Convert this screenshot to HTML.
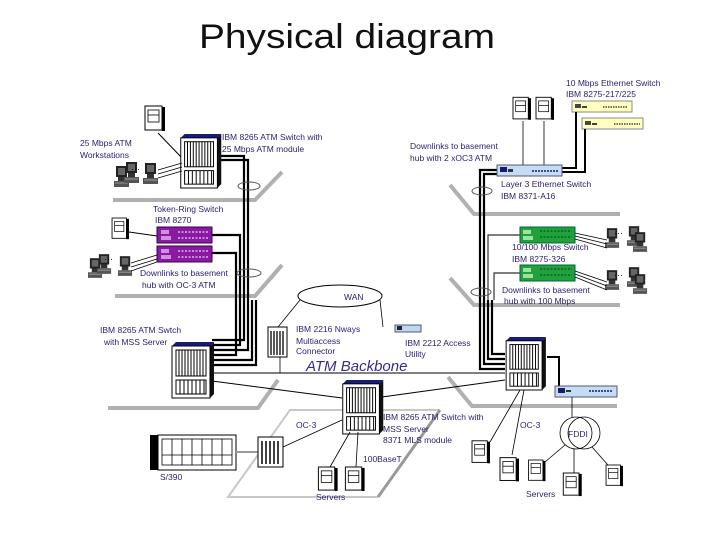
<!DOCTYPE html>
<html><head><meta charset="utf-8"><style>
html,body{margin:0;padding:0;background:#fff;}
svg{display:block;}
text{font-family:"Liberation Sans",sans-serif;}
.l{font-size:8.5px;fill:#2b1d6b;}
</style></head><body>
<svg width="720" height="540" viewBox="0 0 720 540" xmlns="http://www.w3.org/2000/svg">
<defs>
<symbol id="srv" viewBox="0 0 20 26" overflow="visible">
<rect x="0" y="0" width="17" height="24" fill="#fff" stroke="#000" stroke-width="1"/>
<rect x="17" y="1" width="3" height="24" fill="#000"/>
<rect x="3" y="4" width="11" height="12" fill="#fff" stroke="#000" stroke-width="0.8"/>
<line x1="3" y1="9" x2="14" y2="9" stroke="#000" stroke-width="0.8"/>
</symbol>
<symbol id="ws" viewBox="0 0 16 22" overflow="visible">
<rect x="2" y="0" width="11" height="11" fill="#222"/>
<rect x="4" y="2" width="7" height="7" fill="#666"/>
<rect x="4" y="11" width="7" height="4" fill="#333"/>
<rect x="0" y="15" width="15" height="6" fill="#555"/>
<line x1="1" y1="17" x2="14" y2="17" stroke="#ccc" stroke-width="0.6"/>
</symbol>
<symbol id="sw" viewBox="0 0 42 56" overflow="visible">
<polygon points="0,4 4,0 42,0 38,4" fill="#1a1a7a"/>
<polygon points="38,4 42,0 42,52 38,56" fill="#111"/>
<rect x="0" y="4" width="38" height="52" fill="#fff" stroke="#000"/>
<rect x="4" y="8" width="30" height="26" fill="#fff" stroke="#000"/>
<rect x="4" y="38" width="30" height="14" fill="#fff" stroke="#000"/>
<g stroke="#000" stroke-width="1">
<line x1="7" y1="8" x2="7" y2="34"/><line x1="10" y1="8" x2="10" y2="34"/><line x1="13" y1="8" x2="13" y2="34"/><line x1="16" y1="8" x2="16" y2="34"/><line x1="19" y1="8" x2="19" y2="34"/><line x1="22" y1="8" x2="22" y2="34"/><line x1="25" y1="8" x2="25" y2="34"/><line x1="28" y1="8" x2="28" y2="34"/><line x1="31" y1="8" x2="31" y2="34"/>
<line x1="8" y1="38" x2="8" y2="52"/><line x1="12" y1="38" x2="12" y2="52"/><line x1="16" y1="38" x2="16" y2="52"/><line x1="20" y1="38" x2="20" y2="52"/><line x1="24" y1="38" x2="24" y2="52"/><line x1="28" y1="38" x2="28" y2="52"/><line x1="32" y1="38" x2="32" y2="52"/>
</g>
</symbol>
</defs>

<text x="199" y="48" font-size="34" fill="#111" textLength="296" lengthAdjust="spacingAndGlyphs">Physical diagram</text>

<!-- floors -->
<g stroke="#b0b0b0" stroke-width="4" fill="none">
<polyline points="113,200 255,200 282,172"/>
<polyline points="115,296 255,296 282,265"/>
<polyline points="450,185 474,214 620,214"/>
<polyline points="450,278 474,305 620,305"/>
<polyline points="108,408 258,408 278,380"/>
<polyline points="448,377 472,406 617,406"/>
</g>
<g stroke="#c8c8c8" stroke-width="2" fill="none">
<polyline points="440,410 290,410 228,497 378,497"/>
</g>
<line x1="440" y1="410" x2="378" y2="497" stroke="#999" stroke-width="3"/>

<!-- left vertical cable bundle -->
<g stroke="#000" stroke-width="2.2" fill="none">
<polyline points="217,156 244,156 244,340 212,340"/>
<polyline points="217,160 248,160 248,350 212,350"/>
<polyline points="212,235 240,235 240,345 212,345"/>
<polyline points="212,253 236,253 236,355 212,355"/>
<polyline points="252,300 252,360 212,360"/>
<polyline points="256,300 256,365 212,365"/>
</g>
<ellipse cx="249" cy="186" rx="11" ry="4" fill="none" stroke="#555"/>
<ellipse cx="249" cy="273" rx="12" ry="4" fill="none" stroke="#555"/>

<!-- right vertical cable bundle -->
<g stroke="#000" stroke-width="2.2" fill="none">
<polyline points="497,170 480,170 480,369 505,369"/>
<polyline points="497,174 484,174 484,364 505,364"/>
<polyline points="488,300 488,359 505,359"/>
<polyline points="492,300 492,354 505,354"/>
</g>
<g stroke="#333" stroke-width="1.2" fill="none">
<polyline points="520,235 488,235 488,300"/>
<polyline points="520,273 494,273 494,300"/>
</g>
<ellipse cx="482" cy="191" rx="10" ry="4" fill="none" stroke="#555"/>
<ellipse cx="481" cy="292" rx="10" ry="4" fill="none" stroke="#555"/>

<!-- top left -->
<use href="#srv" x="145" y="105" width="20" height="28"/>
<line x1="158" y1="133" x2="182" y2="158" stroke="#000"/>
<use href="#sw" x="180" y="134" width="42" height="54"/>
<use href="#ws" x="114" y="166" width="16" height="22"/>
<use href="#ws" x="124" y="162" width="16" height="22"/>
<use href="#ws" x="143" y="163" width="16" height="22"/>
<text x="131" y="172" font-size="9">···</text>
<g stroke="#000" stroke-width="0.8"><line x1="158" y1="170" x2="182" y2="163"/><line x1="158" y1="174" x2="182" y2="167"/><line x1="158" y1="178" x2="182" y2="171"/></g>
<text class="l" x="222" y="140">IBM 8265 ATM Switch with</text>
<text class="l" x="222" y="152">25 Mbps ATM module</text>
<text class="l" x="80" y="146">25 Mbps ATM</text>
<text class="l" x="80" y="158">Workstations</text>

<text class="l" x="153" y="212">Token-Ring Switch</text>
<text class="l" x="155" y="223">IBM 8270</text>
<rect x="157" y="227" width="55" height="16" fill="#8a1aa0" stroke="#3a0050"/>
<rect x="157" y="246" width="55" height="16" fill="#8a1aa0" stroke="#3a0050"/>
<g fill="#d090e0"><rect x="161" y="230" width="8" height="4"/><rect x="161" y="236" width="10" height="4"/><rect x="161" y="249" width="8" height="4"/><rect x="161" y="255" width="10" height="4"/></g>
<g stroke="#e0b0f0" stroke-width="1.5" stroke-dasharray="2,1.5"><line x1="178" y1="232" x2="209" y2="232"/><line x1="178" y1="238" x2="209" y2="238"/><line x1="178" y1="251" x2="209" y2="251"/><line x1="178" y1="257" x2="209" y2="257"/></g>
<use href="#srv" x="112" y="218" width="17" height="22"/>
<line x1="129" y1="232" x2="157" y2="236" stroke="#000"/>
<use href="#ws" x="88" y="258" width="15" height="21"/>
<use href="#ws" x="97" y="254" width="15" height="21"/>
<use href="#ws" x="118" y="256" width="15" height="21"/>
<text x="104" y="262" font-size="9">···</text>
<g stroke="#000" stroke-width="0.8"><line x1="131" y1="263" x2="157" y2="255"/><line x1="131" y1="267" x2="157" y2="259"/><line x1="131" y1="271" x2="157" y2="262"/></g>
<text class="l" x="140" y="276">Downlinks to basement</text>
<text class="l" x="142" y="288">hub with OC-3 ATM</text>

<!-- WAN area -->
<ellipse cx="340" cy="296" rx="42" ry="11" fill="#fff" stroke="#000"/>
<text class="l" x="344" y="300">WAN</text>
<line x1="300" y1="300" x2="278" y2="327" stroke="#000" stroke-width="0.8"/>
<line x1="380" y1="300" x2="383" y2="327" stroke="#000" stroke-width="0.8"/>
<rect x="268" y="327" width="19" height="30" fill="#fff" stroke="#000"/>
<g stroke="#000" stroke-width="1.3"><line x1="271" y1="331" x2="271" y2="355"/><line x1="274" y1="331" x2="274" y2="355"/><line x1="277" y1="331" x2="277" y2="355"/><line x1="280" y1="331" x2="280" y2="355"/><line x1="283" y1="331" x2="283" y2="355"/></g>
<line x1="280" y1="357" x2="280" y2="373" stroke="#000" stroke-width="0.8"/>
<text class="l" x="296" y="332">IBM 2216 Nways</text>
<text class="l" x="296" y="344">Multiaccess</text>
<text class="l" x="296" y="354">Connector</text>
<rect x="395" y="325" width="26" height="7" fill="#bcd8f0" stroke="#557"/>
<rect x="397" y="326" width="5" height="4" fill="#223"/>
<text class="l" x="405" y="346">IBM 2212 Access</text>
<text class="l" x="405" y="357">Utility</text>

<text x="306" y="371" font-size="15" font-style="italic" fill="#3a2a8a">ATM Backbone</text>
<text class="l" x="100" y="333">IBM 8265 ATM Swtch</text>
<text class="l" x="104" y="345">with MSS Server</text>

<!-- backbone -->
<g stroke="#000" stroke-width="1">
<line x1="212" y1="373" x2="505" y2="373"/>
<line x1="212" y1="381" x2="342" y2="398"/>
<line x1="382" y1="397" x2="505" y2="380"/>
</g>
<use href="#sw" x="172" y="342" width="42" height="56"/>
<use href="#sw" x="342" y="380" width="42" height="54"/>
<use href="#sw" x="505" y="337" width="42" height="53"/>
<text class="l" x="383" y="420">IBM 8265 ATM Switch with</text>
<text class="l" x="383" y="432">MSS Server</text>
<text class="l" x="383" y="443">8371 MLS module</text>

<!-- bottom-left -->
<rect x="150" y="435" width="8" height="35" fill="#000"/>
<rect x="158" y="435" width="78" height="35" fill="#fff" stroke="#000"/>
<g stroke="#000" stroke-width="0.8" fill="none"><rect x="162" y="439" width="70" height="26"/><line x1="162" y1="455" x2="232" y2="455"/><line x1="172" y1="439" x2="172" y2="465"/><line x1="182" y1="439" x2="182" y2="465"/><line x1="192" y1="439" x2="192" y2="465"/><line x1="202" y1="439" x2="202" y2="465"/><line x1="212" y1="439" x2="212" y2="465"/><line x1="222" y1="439" x2="222" y2="465"/></g>
<line x1="236" y1="452" x2="258" y2="452" stroke="#999" stroke-width="2"/>
<text class="l" x="160" y="480">S/390</text>
<rect x="258" y="437" width="25" height="30" fill="#fff" stroke="#000"/>
<g stroke="#000" stroke-width="1.5"><line x1="262" y1="441" x2="262" y2="464"/><line x1="266" y1="441" x2="266" y2="464"/><line x1="270" y1="441" x2="270" y2="464"/><line x1="274" y1="441" x2="274" y2="464"/><line x1="278" y1="441" x2="278" y2="464"/></g>
<line x1="283" y1="447" x2="342" y2="420" stroke="#000" stroke-width="0.8"/>
<text class="l" x="296" y="428">OC-3</text>
<text class="l" x="363" y="462">100BaseT</text>
<line x1="350" y1="432" x2="330" y2="467" stroke="#000" stroke-width="0.8"/>
<line x1="358" y1="432" x2="356" y2="467" stroke="#000" stroke-width="0.8"/>
<use href="#srv" x="318" y="467" width="20" height="25"/>
<use href="#srv" x="345" y="467" width="20" height="25"/>
<text class="l" x="316" y="500">Servers</text>

<!-- right top -->
<text class="l" x="566" y="86">10 Mbps Ethernet Switch</text>
<text class="l" x="566" y="97">IBM 8275-217/225</text>
<use href="#srv" x="513" y="97" width="18" height="24"/>
<use href="#srv" x="536" y="97" width="18" height="24"/>
<line x1="523" y1="121" x2="523" y2="165" stroke="#000" stroke-width="0.8"/>
<line x1="544" y1="121" x2="544" y2="165" stroke="#000" stroke-width="0.8"/>
<rect x="572" y="101" width="60" height="11" fill="#ffffc0" stroke="#888"/>
<rect x="582" y="118" width="61" height="11" fill="#ffffc0" stroke="#888"/>
<g fill="#444"><rect x="575" y="104" width="6" height="4"/><rect x="582" y="106" width="5" height="2"/><rect x="585" y="121" width="6" height="4"/><rect x="592" y="123" width="5" height="2"/></g>
<g stroke="#444" stroke-width="1.5" stroke-dasharray="1.5,1"><line x1="603" y1="107" x2="628" y2="107"/><line x1="614" y1="124" x2="640" y2="124"/></g>
<g stroke="#000" stroke-width="2" fill="none"><polyline points="562,168 576,168 576,112"/><polyline points="562,172 585,172 585,129"/></g>
<text class="l" x="410" y="149">Downlinks to basement</text>
<text class="l" x="410" y="161">hub with 2 xOC3 ATM</text>
<rect x="497" y="165" width="65" height="11" fill="#c4dcf4" stroke="#557"/>
<rect x="500" y="167" width="7" height="5" fill="#1a1a6a"/><rect x="508" y="169" width="5" height="3" fill="#333"/>
<line x1="532" y1="171" x2="558" y2="171" stroke="#1a1a6a" stroke-width="1.5" stroke-dasharray="2,1"/>
<text class="l" x="501" y="187">Layer 3 Ethernet Switch</text>
<text class="l" x="501" y="199">IBM 8371-A16</text>

<rect x="520" y="227" width="55" height="16" fill="#22a03a" stroke="#064"/>
<rect x="520" y="265" width="55" height="16" fill="#22a03a" stroke="#064"/>
<g fill="#a0e0a0"><rect x="523" y="230" width="8" height="4"/><rect x="523" y="236" width="10" height="4"/><rect x="523" y="268" width="8" height="4"/><rect x="523" y="274" width="10" height="4"/></g>
<g stroke="#063" stroke-width="1.5" stroke-dasharray="2,1.5"><line x1="540" y1="231" x2="572" y2="231"/><line x1="540" y1="237" x2="572" y2="237"/><line x1="540" y1="269" x2="572" y2="269"/><line x1="540" y1="275" x2="572" y2="275"/></g>
<text class="l" x="512" y="250">10/100 Mbps Switch</text>
<text class="l" x="512" y="262">IBM 8275-326</text>
<use href="#ws" x="605" y="228" width="15" height="21"/>
<use href="#ws" x="627" y="226" width="15" height="21"/>
<use href="#ws" x="633" y="232" width="15" height="21"/>
<text x="614" y="236" font-size="9">···</text>
<g stroke="#000" stroke-width="0.8"><line x1="575" y1="233" x2="607" y2="240"/><line x1="575" y1="236" x2="607" y2="244"/><line x1="575" y1="239" x2="607" y2="248"/></g>
<use href="#ws" x="605" y="270" width="15" height="21"/>
<use href="#ws" x="627" y="267" width="15" height="21"/>
<use href="#ws" x="633" y="274" width="15" height="21"/>
<text x="614" y="278" font-size="9">···</text>
<g stroke="#000" stroke-width="0.8"><line x1="575" y1="271" x2="607" y2="282"/><line x1="575" y1="274" x2="607" y2="286"/><line x1="575" y1="277" x2="607" y2="290"/></g>
<text class="l" x="502" y="293">Downlinks to basement</text>
<text class="l" x="504" y="304">hub with 100 Mbps</text>

<!-- right bottom -->
<polyline points="547,357 559,357 559,386" fill="none" stroke="#000" stroke-width="2"/>
<rect x="555" y="386" width="62" height="11" fill="#c4dcf4" stroke="#557"/>
<rect x="558" y="388" width="7" height="5" fill="#1a1a6a"/><rect x="566" y="390" width="5" height="2" fill="#333"/>
<line x1="589" y1="391" x2="613" y2="391" stroke="#1a1a6a" stroke-width="1.5" stroke-dasharray="2,1"/>
<line x1="572" y1="397" x2="572" y2="418" stroke="#000" stroke-width="0.8"/>
<circle cx="576" cy="433" r="16" fill="#fff" stroke="#000" stroke-width="0.8"/>
<circle cx="584" cy="433" r="16" fill="none" stroke="#000" stroke-width="0.8"/>
<text class="l" x="568" y="437">FDDI</text>
<text class="l" x="520" y="428">OC-3</text>
<line x1="520" y1="390" x2="490" y2="442" stroke="#000" stroke-width="0.8"/>
<line x1="524" y1="390" x2="512" y2="455" stroke="#000" stroke-width="0.8"/>
<use href="#srv" x="472" y="440" width="18" height="25"/>
<use href="#srv" x="500" y="455" width="19" height="30"/>
<line x1="565" y1="445" x2="545" y2="462" stroke="#000" stroke-width="0.8"/>
<line x1="574" y1="449" x2="574" y2="475" stroke="#000" stroke-width="0.8"/>
<line x1="592" y1="447" x2="608" y2="465" stroke="#000" stroke-width="0.8"/>
<use href="#srv" x="528" y="460" width="18" height="22"/>
<use href="#srv" x="563" y="473" width="19" height="24"/>
<use href="#srv" x="605" y="465" width="19" height="22"/>
<text class="l" x="526" y="497">Servers</text>
</svg>
</body></html>
